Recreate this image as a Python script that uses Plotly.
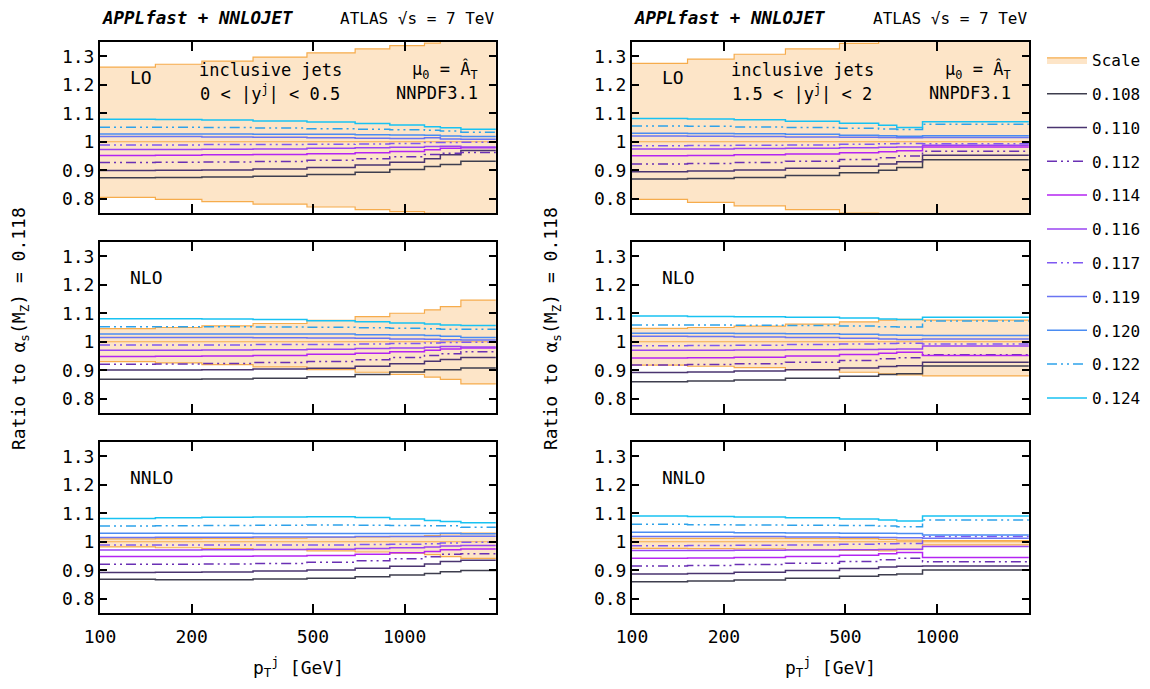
import plotly.graph_objects as go

# ---------------- data ----------------
pt_edges_central = [100, 152, 216, 318, 478, 688, 894, 1162, 1310, 1530, 1992]
pt_edges_forward = [100, 152, 216, 318, 478, 642, 736, 894, 1992]
alphas_s = ["0.108", "0.110", "0.112", "0.114", "0.116", "0.117", "0.119", "0.120", "0.122", "0.124"]
x_ticks = [100, 200, 500, 1000]
y_ticks = [0.8, 0.9, 1.0, 1.1, 1.2, 1.3]
y_ticktext = ["0.8", "0.9", "1", "1.1", "1.2", "1.3"]
ref_ratio = 1.0

# LO, 0 < |y| < 0.5
lo_c_up = [1.262, 1.272, 1.283, 1.297, 1.312, 1.326, 1.337, 1.346, 1.353, 1.362]
lo_c_dn = [0.805, 0.798, 0.790, 0.781, 0.771, 0.762, 0.755, 0.749, 0.744, 0.738]
lo_c_lines = [
    [0.874, 0.875, 0.876, 0.879, 0.885, 0.893, 0.903, 0.913, 0.920, 0.932],
    [0.899, 0.900, 0.901, 0.904, 0.910, 0.918, 0.928, 0.940, 0.954, 0.969],
    [0.927, 0.928, 0.929, 0.931, 0.935, 0.940, 0.947, 0.955, 0.960, 0.962],
    [0.952, 0.953, 0.954, 0.955, 0.958, 0.961, 0.966, 0.972, 0.977, 0.979],
    [0.973, 0.973, 0.974, 0.975, 0.977, 0.979, 0.981, 0.983, 0.984, 0.982],
    [0.989, 0.989, 0.990, 0.990, 0.991, 0.992, 0.994, 0.997, 0.997, 0.998],
    [1.018, 1.018, 1.017, 1.016, 1.014, 1.012, 1.011, 1.014, 1.010, 1.009],
    [1.027, 1.027, 1.027, 1.026, 1.026, 1.025, 1.024, 1.023, 1.020, 1.018],
    [1.051, 1.051, 1.050, 1.048, 1.046, 1.044, 1.042, 1.040, 1.038, 1.033],
    [1.079, 1.078, 1.076, 1.073, 1.069, 1.064, 1.059, 1.053, 1.049, 1.044],
]
# NLO, 0 < |y| < 0.5
nlo_c_up = [1.046, 1.050, 1.056, 1.064, 1.075, 1.088, 1.100, 1.112, 1.123, 1.146]
nlo_c_dn = [0.930, 0.926, 0.920, 0.912, 0.902, 0.893, 0.885, 0.876, 0.868, 0.852]
nlo_c_lines = [
    [0.868, 0.868, 0.869, 0.872, 0.877, 0.885, 0.894, 0.902, 0.902, 0.908],
    [0.901, 0.901, 0.902, 0.904, 0.907, 0.914, 0.923, 0.932, 0.938, 0.945],
    [0.921, 0.922, 0.924, 0.927, 0.931, 0.937, 0.945, 0.952, 0.958, 0.965],
    [0.948, 0.949, 0.950, 0.952, 0.956, 0.960, 0.965, 0.970, 0.975, 0.978],
    [0.970, 0.970, 0.971, 0.972, 0.974, 0.976, 0.978, 0.981, 0.983, 0.982],
    [0.989, 0.989, 0.989, 0.990, 0.990, 0.992, 0.994, 0.996, 0.997, 0.998],
    [1.015, 1.015, 1.015, 1.014, 1.013, 1.012, 1.010, 1.009, 1.007, 1.006],
    [1.027, 1.027, 1.027, 1.027, 1.027, 1.025, 1.024, 1.022, 1.019, 1.015],
    [1.053, 1.053, 1.053, 1.052, 1.051, 1.049, 1.047, 1.046, 1.044, 1.044],
    [1.081, 1.081, 1.080, 1.078, 1.074, 1.070, 1.066, 1.062, 1.059, 1.057],
]
# NNLO, 0 < |y| < 0.5
nnlo_c_up = [1.010, 1.011, 1.012, 1.013, 1.015, 1.017, 1.019, 1.022, 1.028, 1.030]
nnlo_c_dn = [0.982, 0.979, 0.976, 0.972, 0.968, 0.964, 0.960, 0.955, 0.948, 0.942]
nnlo_c_lines = [
    [0.868, 0.867, 0.867, 0.869, 0.872, 0.877, 0.883, 0.889, 0.895, 0.899],
    [0.892, 0.893, 0.894, 0.897, 0.901, 0.907, 0.914, 0.922, 0.931, 0.935],
    [0.921, 0.921, 0.922, 0.924, 0.928, 0.933, 0.940, 0.947, 0.956, 0.958],
    [0.948, 0.948, 0.949, 0.950, 0.952, 0.956, 0.961, 0.966, 0.972, 0.975],
    [0.971, 0.971, 0.972, 0.973, 0.974, 0.976, 0.979, 0.982, 0.985, 0.987],
    [0.989, 0.989, 0.989, 0.989, 0.989, 0.990, 0.991, 0.993, 0.996, 0.998],
    [1.015, 1.016, 1.016, 1.017, 1.017, 1.018, 1.018, 1.018, 1.019, 1.019],
    [1.030, 1.030, 1.030, 1.029, 1.029, 1.029, 1.029, 1.029, 1.030, 1.028],
    [1.055, 1.056, 1.057, 1.058, 1.059, 1.058, 1.057, 1.056, 1.056, 1.051],
    [1.082, 1.084, 1.086, 1.087, 1.088, 1.085, 1.080, 1.075, 1.071, 1.067],
]
# LO, 1.5 < |y| < 2
lo_f_up = [1.275, 1.290, 1.307, 1.326, 1.345, 1.358, 1.365, 1.375]
lo_f_dn = [0.798, 0.787, 0.775, 0.762, 0.750, 0.742, 0.738, 0.730]
lo_f_lines = [
    [0.869, 0.871, 0.875, 0.882, 0.891, 0.900, 0.910, 0.937],
    [0.895, 0.897, 0.901, 0.907, 0.914, 0.922, 0.930, 0.953],
    [0.922, 0.924, 0.927, 0.932, 0.938, 0.944, 0.950, 0.967],
    [0.951, 0.952, 0.954, 0.957, 0.961, 0.965, 0.968, 0.982],
    [0.975, 0.975, 0.976, 0.977, 0.979, 0.981, 0.982, 0.988],
    [0.986, 0.987, 0.988, 0.989, 0.991, 0.993, 0.994, 0.993],
    [1.020, 1.019, 1.018, 1.017, 1.016, 1.015, 1.014, 1.015],
    [1.030, 1.029, 1.028, 1.026, 1.023, 1.021, 1.019, 1.021],
    [1.055, 1.054, 1.052, 1.050, 1.047, 1.045, 1.043, 1.061],
    [1.082, 1.080, 1.077, 1.072, 1.065, 1.058, 1.050, 1.070],
]
# NLO, 1.5 < |y| < 2
nlo_f_up = [1.047, 1.050, 1.055, 1.062, 1.070, 1.076, 1.079, 1.076]
nlo_f_dn = [0.918, 0.914, 0.909, 0.902, 0.893, 0.887, 0.884, 0.880]
nlo_f_lines = [
    [0.860, 0.862, 0.866, 0.872, 0.879, 0.885, 0.888, 0.915],
    [0.892, 0.894, 0.897, 0.902, 0.908, 0.913, 0.916, 0.928],
    [0.918, 0.920, 0.923, 0.928, 0.934, 0.940, 0.944, 0.954],
    [0.943, 0.944, 0.946, 0.950, 0.955, 0.960, 0.963, 0.952],
    [0.970, 0.970, 0.971, 0.972, 0.973, 0.974, 0.975, 0.985],
    [0.986, 0.987, 0.988, 0.990, 0.992, 0.994, 0.995, 0.992],
    [1.019, 1.018, 1.017, 1.015, 1.012, 1.010, 1.008, 1.010],
    [1.030, 1.030, 1.029, 1.028, 1.026, 1.024, 1.023, 1.022],
    [1.059, 1.059, 1.058, 1.057, 1.055, 1.053, 1.052, 1.073],
    [1.090, 1.089, 1.088, 1.086, 1.083, 1.080, 1.078, 1.086],
]
# NNLO, 1.5 < |y| < 2
nnlo_f_up = [1.012, 1.012, 1.013, 1.012, 1.011, 1.008, 1.006, 1.004]
nnlo_f_dn = [0.977, 0.976, 0.975, 0.972, 0.970, 0.968, 0.972, 0.989]
nnlo_f_lines = [
    [0.860, 0.862, 0.866, 0.872, 0.879, 0.884, 0.887, 0.901],
    [0.887, 0.889, 0.893, 0.899, 0.906, 0.911, 0.914, 0.915],
    [0.915, 0.917, 0.920, 0.925, 0.931, 0.937, 0.942, 0.930],
    [0.942, 0.943, 0.945, 0.948, 0.953, 0.958, 0.962, 0.945],
    [0.969, 0.969, 0.970, 0.971, 0.972, 0.973, 0.974, 0.983],
    [0.986, 0.987, 0.988, 0.989, 0.991, 0.993, 0.994, 1.018],
    [1.018, 1.018, 1.018, 1.017, 1.016, 1.015, 1.014, 1.012],
    [1.033, 1.033, 1.032, 1.031, 1.030, 1.030, 1.029, 1.024],
    [1.061, 1.060, 1.059, 1.058, 1.057, 1.055, 1.053, 1.076],
    [1.090, 1.089, 1.087, 1.084, 1.080, 1.076, 1.073, 1.090],
]

# ---------------- style ----------------
FONT = "DejaVu Sans Mono"
OFF = 8                      # default page body margin
W, H = 1150 - OFF, 689 - OFF
line_colors = ["#3e3e4e", "#4a3470", "#6a30b4", "#b424f2", "#9a44f2",
               "#7f58f2", "#6a74f2", "#4a8cf2", "#2ea2ea", "#18c2f2"]
DDOT = "10px,4px,2px,4px,2px,4px"
line_dash = ["solid", "solid", DDOT, "solid", "solid", DDOT, "solid", "solid", DDOT, "solid"]
band_fill = "rgba(253,229,200,1)"
band_line = "#f6ac4c"

col_x = [(100, 496), (632, 1029)]
row_y = [(42, 213), (242, 413), (442, 613)]

panels = [
    (0, 0, pt_edges_central, lo_c_up, lo_c_dn, lo_c_lines, "LO"),
    (1, 0, pt_edges_central, nlo_c_up, nlo_c_dn, nlo_c_lines, "NLO"),
    (2, 0, pt_edges_central, nnlo_c_up, nnlo_c_dn, nnlo_c_lines, "NNLO"),
    (0, 1, pt_edges_forward, lo_f_up, lo_f_dn, lo_f_lines, "LO"),
    (1, 1, pt_edges_forward, nlo_f_up, nlo_f_dn, nlo_f_lines, "NLO"),
    (2, 1, pt_edges_forward, nnlo_f_up, nnlo_f_dn, nnlo_f_lines, "NNLO"),
]

fig = go.Figure()
layout = dict()
annotations = []


def px(x):
    return (x - OFF) / W


def py(y):
    return 1 - (y - OFF) / H


for k, (r, c, edges, up, dn, lines, order) in enumerate(panels):
    idx = r * 2 + c + 1
    xa = "x" if idx == 1 else f"x{idx}"
    ya = "y" if idx == 1 else f"y{idx}"
    first = (k == 0)
    fig.add_trace(go.Scatter(x=edges, y=dn + [dn[-1]], mode="lines", line_shape="hv",
                             line=dict(color=band_line, width=1.2), xaxis=xa, yaxis=ya,
                             showlegend=False, legendgroup="scale", hoverinfo="skip"))
    fig.add_trace(go.Scatter(x=edges, y=up + [up[-1]], mode="lines", line_shape="hv",
                             fill="tonexty", fillcolor=band_fill,
                             line=dict(color=band_line, width=1.2), xaxis=xa, yaxis=ya,
                             name="Scale", showlegend=first, legendgroup="scale"))
    fig.add_trace(go.Scatter(x=[edges[0], edges[-1]], y=[ref_ratio, ref_ratio], mode="lines",
                             line=dict(color=band_line, width=1.2), xaxis=xa, yaxis=ya,
                             showlegend=False, legendgroup="scale", hoverinfo="skip"))
    for i, vals in enumerate(lines):
        fig.add_trace(go.Scatter(x=edges, y=vals + [vals[-1]], mode="lines", line_shape="hv",
                                 line=dict(color=line_colors[i], width=1.5, dash=line_dash[i]),
                                 xaxis=xa, yaxis=ya, name=alphas_s[i],
                                 showlegend=first, legendgroup=alphas_s[i]))
    x0, x1 = col_x[c]
    y0, y1 = row_y[r]
    axis_common = dict(showline=True, linecolor="black", linewidth=2, mirror="ticks",
                       ticks="inside", tickcolor="black", tickwidth=1.5, showgrid=False,
                       zeroline=False, tickfont=dict(family=FONT, size=18, color="black"))
    layout["xaxis" if idx == 1 else f"xaxis{idx}"] = dict(
        axis_common, type="log", range=[2, 3.3], domain=[px(x0), px(x1)],
        anchor=ya, tickvals=x_ticks, ticktext=[str(v) for v in x_ticks], ticklen=9,
        showticklabels=(r == 2), ticklabelstandoff=6)
    layout["yaxis" if idx == 1 else f"yaxis{idx}"] = dict(
        axis_common, range=[0.75, 1.35], domain=[py(y1), py(y0)], anchor=xa,
        tickvals=y_ticks, ticktext=y_ticktext, ticklen=7)
    annotations.append(dict(xref=f"{xa} domain", yref=f"{ya} domain", x=0.07, y=0.795,
                            xanchor="left", yanchor="middle", text=order, showarrow=False,
                            font=dict(family=FONT, size=18, color="black")))

# header texts
for c, rap in enumerate(["0 < |y<sup>j</sup>| < 0.5", "1.5 < |y<sup>j</sup>| < 2"]):
    x0, x1 = col_x[c]
    annotations += [
        dict(xref="paper", yref="paper", x=px(x0), y=py(18), xanchor="left", yanchor="middle",
             text="<b><i>APPLfast + NNLOJET</i></b>", showarrow=False,
             font=dict(family=FONT, size=17.5, color="black")),
        dict(xref="paper", yref="paper", x=px(x1), y=py(18), xanchor="right", yanchor="middle",
             text="ATLAS √s = 7 TeV", showarrow=False,
             font=dict(family=FONT, size=16, color="black")),
        dict(xref="paper", yref="paper", x=px(x0 + 170), y=py(70), xanchor="center", yanchor="middle",
             text="inclusive jets", showarrow=False, font=dict(family=FONT, size=17, color="black")),
        dict(xref="paper", yref="paper", x=px(x0 + 170), y=py(93), xanchor="center", yanchor="middle",
             text=rap, showarrow=False, font=dict(family=FONT, size=17, color="black")),
        dict(xref="paper", yref="paper", x=px(x1 - 16), y=py(70), xanchor="right", yanchor="middle",
             text="μ<sub>0</sub> = Â<sub>T</sub>", showarrow=False,
             font=dict(family=FONT, size=17, color="black")),
        dict(xref="paper", yref="paper", x=px(x1 - 16), y=py(93), xanchor="right", yanchor="middle",
             text="NNPDF3.1", showarrow=False, font=dict(family=FONT, size=17, color="black")),
        dict(xref="paper", yref="paper", x=px((x0 + x1) / 2), y=py(667), xanchor="center", yanchor="middle",
             text="p<sub>T</sub><sup>j</sup> [GeV]", showarrow=False,
             font=dict(family=FONT, size=18, color="black")),
        dict(xref="paper", yref="paper", x=px(x0 - 80), y=py(329), xanchor="center", yanchor="middle",
             text="Ratio to α<sub>s</sub>(M<sub>Z</sub>) = 0.118", textangle=-90, showarrow=False,
             font=dict(family=FONT, size=18, color="black")),
    ]

fig.update_layout(
    width=W, height=H, margin=dict(l=0, r=0, t=0, b=0, autoexpand=False),
    paper_bgcolor="white", plot_bgcolor="white",
    font=dict(family=FONT, size=16, color="black"),
    showlegend=True,
    legend=dict(x=px(1042), y=py(43), xanchor="left", yanchor="top",
                font=dict(family=FONT, size=16, color="black"),
                tracegroupgap=10, itemwidth=40, bgcolor="rgba(0,0,0,0)"),
    annotations=annotations,
    **layout,
)

fig.write_html("out.html")
